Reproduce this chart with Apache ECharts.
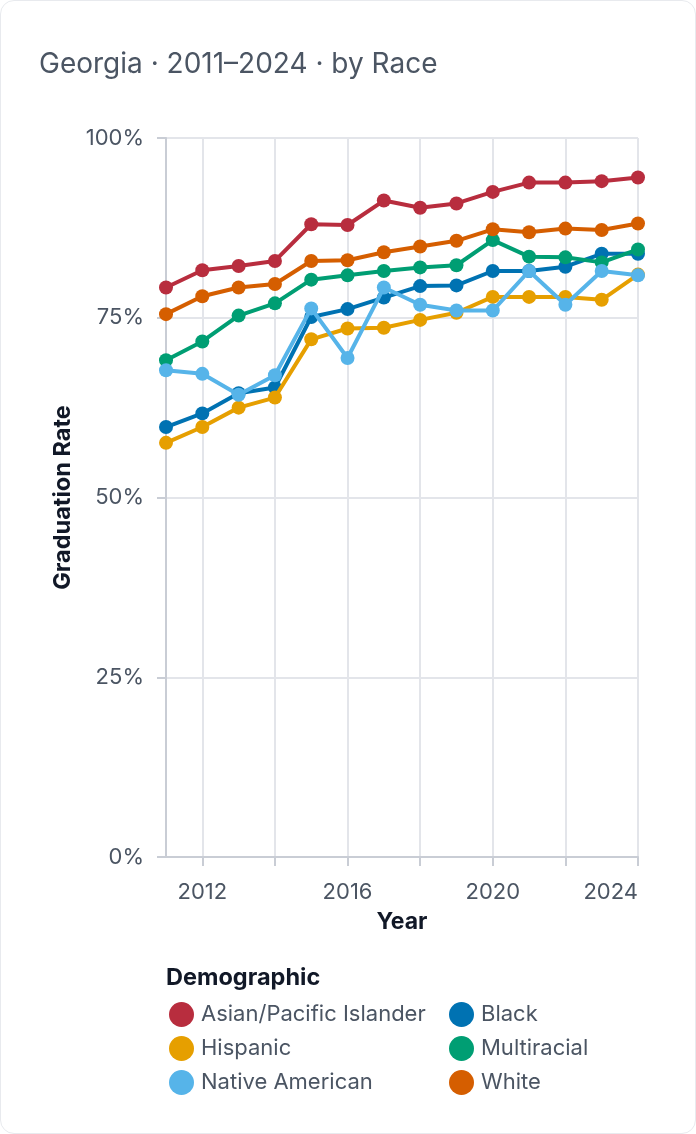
<!DOCTYPE html>
<html>
<head>
<meta charset="utf-8">
<script src="https://cdn.jsdelivr.net/npm/echarts@6/dist/echarts.min.js"></script>
<style>
  html, body { margin: 0; padding: 0; background: #ffffff; }
  #card {
    position: absolute; left: 0; top: 0; width: 694px; height: 1132px;
    border: 1px solid #e8eaee; border-radius: 14px; background: #fff;
  }
  #chart { width: 696px; height: 1134px; position: absolute; left: 0; top: 0; }
</style>
</head>
<body>
<div id="card"></div>
<div id="chart"></div>
<script>
var years = ['2011', '2012', '2013', '2014', '2015', '2016', '2017', '2018', '2019', '2020', '2021', '2022', '2023', '2024'];

var seriesNames = ['Asian/Pacific Islander', 'Black', 'Hispanic', 'Multiracial', 'Native American', 'White'];
var seriesColors = ['#b82d3e', '#0072b2', '#e69f00', '#009e73', '#56b4e9', '#d55e00'];

var asian = [79.2, 81.6, 82.2, 82.9, 88.0, 87.9, 91.3, 90.3, 90.9, 92.5, 93.8, 93.8, 94.0, 94.5];
var black = [59.8, 61.7, 64.5, 65.3, 75.1, 76.2, 77.8, 79.4, 79.5, 81.5, 81.5, 82.1, 83.9, 83.9];
var hispanic = [57.6, 59.8, 62.5, 63.9, 72.0, 73.5, 73.6, 74.7, 75.7, 77.9, 77.9, 77.9, 77.5, 81.0];
var multiracial = [69.1, 71.7, 75.3, 77.0, 80.3, 80.9, 81.5, 82.0, 82.3, 85.8, 83.5, 83.4, 82.7, 84.5];
var nativeAmerican = [67.7, 67.2, 64.3, 67.0, 76.3, 69.4, 79.2, 76.8, 76.0, 76.0, 81.5, 76.8, 81.5, 80.9];
var white = [75.5, 78.0, 79.2, 79.7, 82.9, 83.0, 84.1, 84.9, 85.7, 87.3, 86.9, 87.4, 87.2, 88.1];

var values = [asian, black, hispanic, multiracial, nativeAmerican, white];

var FONT = 'Inter, "Noto Sans", sans-serif';
var gridColor = '#e3e5ea';
var axisColor = '#c9cdd5';
var labelColor = '#4b5563';

var chart = echarts.init(document.getElementById('chart'), null, { renderer: 'canvas' });

var series = seriesNames.map(function (name, i) {
  return {
    name: name,
    type: 'line',
    data: values[i],
    symbol: 'circle',
    symbolSize: 14,
    lineStyle: { width: 4, color: seriesColors[i] },
    itemStyle: { color: seriesColors[i] },
    emphasis: { disabled: true },
    z: 2 + i
  };
});

function legendItem(name, i) {
  return { name: name, itemStyle: { color: seriesColors[i] } };
}

var option = {
  animation: false,
  textStyle: { fontFamily: FONT },
  title: [
    {
      text: 'Georgia · 2011–2024 · by Race',
      left: 34, top: 46,
      textStyle: { fontFamily: FONT, fontSize: 28, fontWeight: 'normal', color: '#4b5563' }
    },
    {
      text: 'Demographic',
      left: 161, top: 961,
      textStyle: { fontFamily: FONT, fontSize: 23.5, fontWeight: 'bold', color: '#111827' }
    }
  ],
  legend: [
    {
      orient: 'vertical',
      left: 164, top: 997,
      icon: 'circle',
      itemWidth: 29, itemHeight: 25, itemGap: 9,
      selectedMode: false,
      data: [legendItem(seriesNames[0], 0), legendItem(seriesNames[2], 2), legendItem(seriesNames[4], 4)],
      textStyle: { fontFamily: FONT, fontSize: 22, color: labelColor }
    },
    {
      orient: 'vertical',
      left: 444, top: 997,
      icon: 'circle',
      itemWidth: 29, itemHeight: 25, itemGap: 9,
      selectedMode: false,
      data: [legendItem(seriesNames[1], 1), legendItem(seriesNames[3], 3), legendItem(seriesNames[5], 5)],
      textStyle: { fontFamily: FONT, fontSize: 22, color: labelColor }
    }
  ],
  grid: { left: 166, right: 58, top: 138, bottom: 277, containLabel: false },
  xAxis: {
    type: 'category',
    data: years,
    boundaryGap: false,
    name: 'Year',
    nameLocation: 'middle',
    nameGap: 54,
    nameTextStyle: { fontFamily: FONT, fontSize: 23, fontWeight: 'bold', color: '#111827' },
    axisLine: { show: true, lineStyle: { color: axisColor, width: 2 } },
    axisTick: {
      show: true, length: 9, lineStyle: { color: axisColor, width: 2 },
      interval: function (idx, val) { return Number(val) % 2 === 0; }
    },
    axisLabel: {
      margin: 24,
      fontSize: 22, color: labelColor, fontFamily: FONT,
      alignMaxLabel: 'right',
      interval: function (idx, val) { return Number(val) % 4 === 0; }
    },
    splitLine: {
      show: true, lineStyle: { color: gridColor, width: 2 },
      interval: function (idx, val) { return Number(val) % 2 === 0; }
    }
  },
  yAxis: {
    type: 'value',
    min: 0, max: 100, interval: 25,
    name: 'Graduation Rate',
    nameLocation: 'middle',
    nameGap: 88,
    nameTextStyle: { fontFamily: FONT, fontSize: 23.5, fontWeight: 'bold', color: '#111827' },
    axisLine: { show: true, lineStyle: { color: axisColor, width: 2 } },
    axisTick: { show: true, length: 9, lineStyle: { color: axisColor, width: 2 } },
    axisLabel: { formatter: '{value}%', margin: 22, fontSize: 22, color: labelColor, fontFamily: FONT },
    splitLine: { show: true, lineStyle: { color: gridColor, width: 2 } }
  },
  series: series
};

chart.setOption(option);
</script>
</body>
</html>
